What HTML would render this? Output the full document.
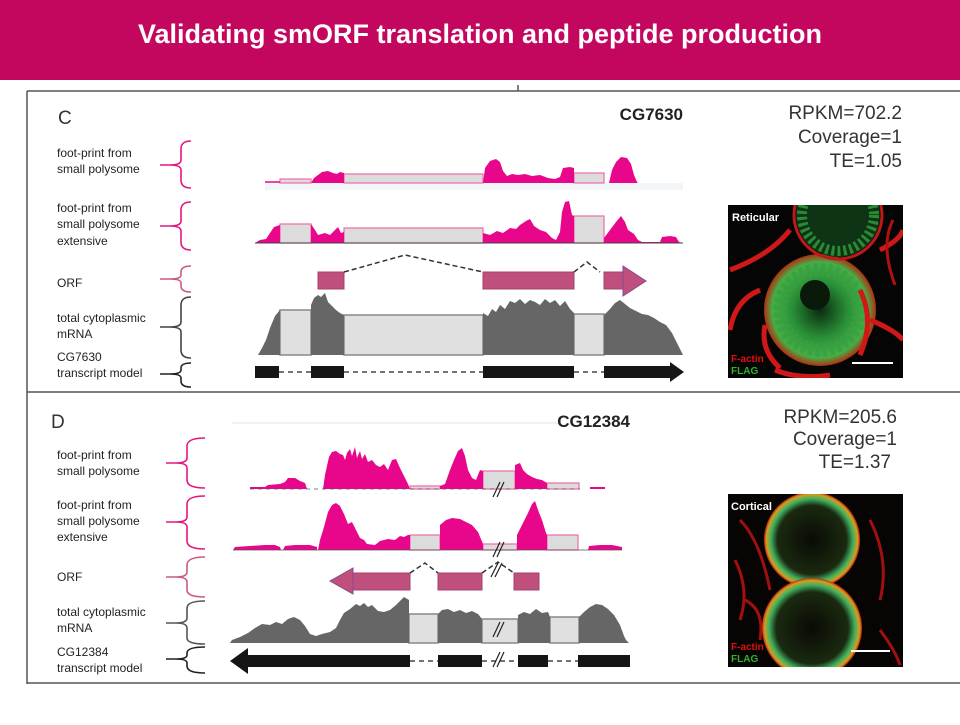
<!DOCTYPE html>
<html><head><meta charset="utf-8"><style>
html,body{margin:0;padding:0;background:#fff;}
body{width:960px;height:720px;overflow:hidden;position:relative;font-family:"Liberation Sans",sans-serif;}
</style></head><body>
<svg width="960" height="720" viewBox="0 0 960 720" xmlns="http://www.w3.org/2000/svg" font-family="Liberation Sans, sans-serif">
<defs>
<radialGradient id="gc" cx="50%" cy="50%" r="50%"><stop offset="0" stop-color="#0a2a10"/><stop offset="0.5" stop-color="#2a9038"/><stop offset="0.85" stop-color="#45b048"/><stop offset="1" stop-color="#b03010"/></radialGradient>
<radialGradient id="gd" cx="50%" cy="50%" r="50%"><stop offset="0" stop-color="#0a0a05"/><stop offset="0.72" stop-color="#1a2a10"/><stop offset="0.86" stop-color="#3fb060"/><stop offset="0.95" stop-color="#d0a020"/><stop offset="1" stop-color="#c02010"/></radialGradient>
<clipPath id="cc"><rect x="728" y="205" width="175" height="173"/></clipPath>
<clipPath id="cd"><rect x="728" y="494" width="175" height="173"/></clipPath>
</defs>
<rect x="0" y="0" width="960" height="80" fill="#C4075E"/>
<text x="480" y="43" text-anchor="middle" fill="#fff" font-size="27" font-weight="bold">Validating smORF translation and peptide production</text>

<g stroke="#555" stroke-width="1.5" fill="none">
<line x1="27" y1="91" x2="960" y2="91"/>
<line x1="27" y1="91" x2="27" y2="684"/>
<line x1="27" y1="392" x2="960" y2="392"/>
<line x1="27" y1="683" x2="960" y2="683"/>
<line x1="518" y1="85" x2="518" y2="91"/>
</g>

<text x="58" y="124" font-size="19" fill="#333">C</text>
<text x="683" y="120" font-size="17" font-weight="bold" text-anchor="end" fill="#222">CG7630</text>
<g font-size="19" fill="#333" text-anchor="end">
<text x="902" y="119">RPKM=702.2</text>
<text x="902" y="143">Coverage=1</text>
<text x="902" y="167">TE=1.05</text>
</g>
<g font-size="12" fill="#222">
<text x="57" y="157">foot-print from</text>
<text x="57" y="173">small polysome</text>
<text x="57" y="212">foot-print from</text>
<text x="57" y="228">small polysome</text>
<text x="57" y="245">extensive</text>
<text x="57" y="287">ORF</text>
<text x="57" y="322">total cytoplasmic</text>
<text x="57" y="338">mRNA</text>
<text x="57" y="361">CG7630</text>
<text x="57" y="377">transcript model</text>
</g>
<g fill="none" stroke-width="1.6">
<path d="M191,141 Q181,141 181,149 L181,160 Q181,165 170,165 Q181,165 181,170 L181,180 Q181,188 191,188 M160,165 L170,165" stroke="#e8157f"/>
<path d="M191,202 Q181,202 181,210 L181,221 Q181,226 170,226 Q181,226 181,231 L181,242 Q181,250 191,250 M160,226 L170,226" stroke="#e8157f"/>
<path d="M191,266 Q181,266 181,272 L181,275 Q181,279 170,279 Q181,279 181,283 L181,286 Q181,292 191,292 M160,279 L170,279" stroke="#c85a88"/>
<path d="M191,297 Q181,297 181,305 L181,322 Q181,327 170,327 Q181,327 181,332 L181,350 Q181,358 191,358 M160,327 L170,327" stroke="#444"/>
<path d="M191,363 Q181,363 181,368 L181,370 Q181,374 170,374 Q181,374 181,378 L181,381 Q181,387 191,387 M160,374 L170,374" stroke="#222"/>
</g>

<rect x="265" y="183" width="418" height="7" fill="#f3f6f8"/>
<g fill="#dcdcdc" stroke="#f06aa8" stroke-width="1.2">
<rect x="280" y="179" width="31" height="4"/>
<rect x="344" y="174" width="139" height="9"/>
<rect x="574" y="173" width="30" height="10"/>
</g>
<line x1="265" y1="182" x2="280" y2="182" stroke="#e8068a" stroke-width="1.5"/>
<g fill="#e8068a">
<path d="M311,183 L314,178 L318,175 L322,172 L328,171 L333,173 L337,174 L340,172 L344,173 L344,183Z"/>
<path d="M483,183 L485,168 L490,161 L496,159 L500,162 L503,171 L507,176 L512,174 L518,175 L525,174 L532,176 L540,175 L548,178 L555,179 L560,177 L563,168 L570,167 L574,168 L574,183Z"/>
<path d="M609,183 L612,170 L616,162 L621,157 L627,158 L631,164 L634,175 L637,182 L638,183Z"/>
</g>

<g fill="#dcdcdc" stroke="#f06aa8" stroke-width="1.2">
<rect x="280" y="224" width="31" height="19"/>
<rect x="344" y="228" width="139" height="15"/>
<rect x="574" y="216" width="30" height="27"/>
</g>
<g fill="#e8068a">
<path d="M255,243 L260,240 L266,239 L270,233 L274,227 L280,225 L280,243Z"/>
<path d="M311,243 L311,224 L315,230 L318,235 L325,233 L330,235 L335,230 L338,227 L341,233 L344,232 L344,243Z"/>
<path d="M483,243 L483,233 L490,235 L497,231 L503,233 L510,228 L516,229 L520,225 L526,221 L530,219 L534,226 L540,230 L546,232 L552,238 L556,240 L560,232 L562,212 L565,202 L569,201 L572,215 L574,216 L574,243Z"/>
<path d="M604,243 L604,238 L610,230 L616,222 L621,216 L625,222 L628,230 L634,234 L638,240 L642,242 L660,242 L662,237 L670,236 L676,237 L679,242 L683,243Z"/>
</g>
<line x1="255" y1="243" x2="683" y2="243" stroke="#444" stroke-width="1"/>

<g fill="#bf4f7d" stroke="#a9406d" stroke-width="1">
<rect x="318" y="272" width="26" height="17"/>
<rect x="483" y="272" width="91" height="17"/>
<rect x="604" y="272" width="19" height="17"/>
<path d="M623,266 L646,281 L623,296Z" stroke="#8a4a90"/>
</g>
<path d="M344,272 L405,255 L483,272 M574,272 L587,262 L600,272" fill="none" stroke="#333" stroke-width="1.5" stroke-dasharray="5,3"/>

<g fill="#e0e0e0" stroke="#888" stroke-width="1.5">
<rect x="280" y="310" width="31" height="45"/>
<rect x="344" y="315" width="139" height="40"/>
<rect x="574" y="314" width="30" height="41"/>
</g>
<g fill="#666">
<path d="M258,355 L262,348 L266,340 L270,328 L275,316 L280,310 L280,355Z"/>
<path d="M311,355 L311,305 L314,298 L318,295 L321,297 L325,293 L328,302 L332,306 L336,310 L340,313 L344,315 L344,355Z"/>
<path d="M483,355 L483,313 L488,316 L492,309 L496,312 L500,305 L505,309 L510,301 L515,303 L520,299 L525,304 L530,300 L535,302 L540,305 L545,299 L550,303 L555,300 L560,306 L565,301 L570,309 L574,313 L574,355Z"/>
<path d="M604,355 L604,315 L610,309 L615,303 L620,300 L625,304 L630,308 L636,311 L642,314 L648,315 L654,318 L660,322 L666,325 L672,333 L678,345 L683,355Z"/>
</g>

<g fill="#151515">
<rect x="255" y="366" width="24" height="12"/>
<rect x="311" y="366" width="33" height="12"/>
<rect x="483" y="366" width="91" height="12"/>
<rect x="604" y="366" width="68" height="12"/>
<path d="M670,362 L684,372 L670,382Z"/>
</g>
<path d="M279,372 L311,372 M344,372 L483,372 M574,372 L604,372" stroke="#222" stroke-width="1.3" stroke-dasharray="5,4"/>

<!-- C image -->
<g clip-path="url(#cc)">
<rect x="728" y="205" width="175" height="173" fill="#050505"/>
<circle cx="820" cy="310" r="56" fill="url(#gc)"/>
<circle cx="820" cy="310" r="40" fill="none" stroke="#3aa040" stroke-width="14" stroke-dasharray="4,3" opacity="0.8"/>
<circle cx="815" cy="295" r="15" fill="#0a1a0a"/>
<circle cx="838" cy="215" r="42" fill="#0d3515"/>
<circle cx="838" cy="215" r="36" fill="none" stroke="#2a8a35" stroke-width="10" stroke-dasharray="3,3"/>
<circle cx="838" cy="215" r="44" fill="none" stroke="#c01818" stroke-width="3"/>
<path d="M730,270 Q770,255 790,230 M760,290 Q735,300 730,330 M870,320 Q895,330 903,340 M880,250 Q900,240 903,230 M775,370 Q800,380 830,375 M765,325 Q760,350 780,368 M860,290 Q875,320 860,355" stroke="#d01818" stroke-width="5" fill="none"/>
<path d="M893,220 Q880,245 895,285" stroke="#b01010" stroke-width="3" fill="none"/>
</g>
<text x="732" y="221" font-size="11" font-weight="bold" fill="#fff">Reticular</text>
<text x="731" y="362" font-size="10" font-weight="bold" fill="#e01010">F-actin</text>
<text x="731" y="374" font-size="10" font-weight="bold" fill="#30b030">FLAG</text>
<line x1="852" y1="363" x2="893" y2="363" stroke="#fff" stroke-width="2"/>

<text x="51" y="428" font-size="19" fill="#333">D</text>
<line x1="232" y1="423" x2="560" y2="423" stroke="#eef2f6" stroke-width="2"/>
<text x="630" y="427" font-size="17" font-weight="bold" text-anchor="end" fill="#222">CG12384</text>
<g font-size="19" fill="#333" text-anchor="end">
<text x="897" y="423">RPKM=205.6</text>
<text x="897" y="445">Coverage=1</text>
<text x="891" y="468">TE=1.37</text>
</g>
<g font-size="12" fill="#222">
<text x="57" y="459">foot-print from</text>
<text x="57" y="475">small polysome</text>
<text x="57" y="509">foot-print from</text>
<text x="57" y="525">small polysome</text>
<text x="57" y="541">extensive</text>
<text x="57" y="581">ORF</text>
<text x="57" y="616">total cytoplasmic</text>
<text x="57" y="632">mRNA</text>
<text x="57" y="656">CG12384</text>
<text x="57" y="672">transcript model</text>
</g>
<g fill="none" stroke-width="1.6">
<path d="M205,438 Q187,438 187,446 L187,458 Q187,463 176,463 Q187,463 187,468 L187,480 Q187,488 205,488 M166,463 L176,463" stroke="#e8157f"/>
<path d="M205,496 Q187,496 187,504 L187,517 Q187,522 176,522 Q187,522 187,527 L187,541 Q187,549 205,549 M166,522 L176,522" stroke="#e8157f"/>
<path d="M205,557 Q187,557 187,565 L187,572 Q187,577 176,577 Q187,577 187,582 L187,590 Q187,597 205,597 M166,577 L176,577" stroke="#c85a88"/>
<path d="M205,601 Q187,601 187,608 L187,618 Q187,623 176,623 Q187,623 187,628 L187,638 Q187,644 205,644 M166,623 L176,623" stroke="#555"/>
<path d="M205,647 Q187,647 187,653 L187,655 Q187,659 176,659 Q187,659 187,663 L187,666 Q187,673 205,673 M166,659 L176,659" stroke="#222"/>
</g>

<g fill="#dcdcdc" stroke="#f06aa8" stroke-width="1.2">
<rect x="410" y="486" width="30" height="3"/>
<rect x="483" y="471" width="32" height="18"/>
<rect x="547" y="483" width="32" height="6"/>
</g>
<g fill="#e8068a">
<path d="M250,489 L250,487 L265,487 L268,485 L280,484 L285,482 L288,478 L295,478 L300,481 L305,483 L307,489Z"/>
<path d="M323,489 L325,475 L329,457 L332,452 L336,451 L340,454 L343,455 L345,460 L347,453 L350,449 L352,456 L355,447 L357,458 L360,451 L362,459 L365,454 L368,462 L372,460 L376,465 L380,467 L384,464 L388,470 L392,460 L396,459 L400,468 L404,476 L408,484 L410,489Z"/>
<path d="M440,489 L440,486 L445,484 L450,470 L454,460 L458,451 L462,448 L465,456 L468,470 L472,478 L476,480 L480,470 L483,471 L483,489Z"/>
<path d="M515,489 L515,465 L520,463 L523,470 L527,474 L532,477 L537,479 L542,480 L547,483 L547,489Z"/>
<rect x="590" y="487" width="15" height="2"/>
</g>
<line x1="250" y1="489" x2="580" y2="489" stroke="#555" stroke-width="0.8" stroke-dasharray="4,4"/>

<g fill="#dcdcdc" stroke="#f06aa8" stroke-width="1.2">
<rect x="410" y="535" width="30" height="15"/>
<rect x="483" y="544" width="34" height="6"/>
<rect x="547" y="535" width="31" height="15"/>
</g>
<g fill="#e8068a">
<path d="M233,550 L235,547 L250,546 L265,545 L275,545 L280,547 L281,550Z"/>
<path d="M283,550 L285,546 L295,545 L310,545 L317,547 L317,550Z"/>
<path d="M318,550 L320,540 L324,527 L328,512 L332,505 L336,503 L340,506 L344,514 L348,524 L352,522 L356,530 L360,538 L364,540 L367,544 L375,545 L380,541 L388,539 L395,540 L400,536 L404,537 L408,535 L410,535 L410,550Z"/>
<path d="M440,550 L440,525 L446,520 L452,518 L460,519 L466,522 L472,525 L478,532 L483,544 L483,550Z"/>
<path d="M517,550 L517,535 L522,525 L528,513 L532,504 L535,501 L538,510 L542,520 L546,533 L547,535 L547,550Z"/>
<path d="M588,550 L589,546 L600,545 L612,545 L622,547 L622,550Z"/>
</g>
<line x1="233" y1="550" x2="622" y2="550" stroke="#555" stroke-width="0.8"/>

<g fill="#bf4f7d" stroke="#a9406d" stroke-width="1">
<rect x="353" y="573" width="57" height="17"/>
<path d="M353,568 L330,581 L353,594Z" stroke="#8a4a90"/>
<rect x="438" y="573" width="44" height="17"/>
<rect x="514" y="573" width="25" height="17"/>
</g>
<path d="M410,573 L425,563 L438,573 M482,573 L498,562 L514,573" fill="none" stroke="#333" stroke-width="1.5" stroke-dasharray="5,3"/>

<g fill="#e0e0e0" stroke="#888" stroke-width="1.5">
<rect x="409" y="614" width="29" height="29"/>
<rect x="482" y="619" width="36" height="24"/>
<rect x="550" y="617" width="29" height="26"/>
</g>
<g fill="#666">
<path d="M230,643 L232,640 L240,637 L248,633 L255,628 L262,624 L270,625 L276,622 L282,624 L288,619 L294,617 L300,620 L305,626 L310,634 L316,636 L322,634 L330,632 L336,628 L340,620 L344,613 L350,609 L356,604 L360,606 L364,603 L368,607 L372,605 L378,611 L384,612 L390,610 L396,605 L400,601 L404,597 L409,600 L409,643Z"/>
<path d="M438,643 L438,614 L442,610 L448,609 L454,612 L460,610 L466,613 L472,611 L478,614 L482,619 L482,643Z"/>
<path d="M518,643 L518,615 L524,612 L530,614 L536,609 L542,613 L548,612 L550,617 L550,643Z"/>
<path d="M579,643 L579,617 L584,612 L590,607 L596,604 L602,605 L608,609 L614,615 L620,625 L624,636 L626,640 L629,643Z"/>
</g>

<g fill="#151515">
<rect x="247" y="655" width="163" height="12"/>
<path d="M248,648 L230,661 L248,674Z"/>
<rect x="438" y="655" width="44" height="12"/>
<rect x="518" y="655" width="30" height="12"/>
<rect x="578" y="655" width="52" height="12"/>
</g>
<path d="M410,661 L438,661 M482,661 L518,661 M548,661 L578,661" stroke="#222" stroke-width="1.3" stroke-dasharray="5,4"/>

<g stroke="#222" stroke-width="1.2">
<path d="M493,637 L500,622 M497,637 L504,622"/>
<path d="M493,497 L500,482 M497,497 L504,482"/>
<path d="M493,557 L500,542 M497,557 L504,542"/>
<path d="M491,577 L498,563 M495,577 L502,563"/>
<path d="M493,667 L500,652 M497,667 L504,652"/>
</g>

<!-- D image -->
<g clip-path="url(#cd)">
<rect x="728" y="494" width="175" height="173" fill="#070503"/>
<path d="M735,560 Q750,590 740,620 M745,600 Q765,610 760,640 M870,520 Q890,560 880,600 M880,630 Q895,650 900,665 M740,520 Q760,540 770,590" stroke="#a01010" stroke-width="3" fill="none"/>
<circle cx="812" cy="540" r="48" fill="url(#gd)"/>
<circle cx="812" cy="628" r="50" fill="url(#gd)"/>
</g>
<text x="731" y="510" font-size="11" font-weight="bold" fill="#fff">Cortical</text>
<text x="731" y="650" font-size="10" font-weight="bold" fill="#e01010">F-actin</text>
<text x="731" y="662" font-size="10" font-weight="bold" fill="#30b030">FLAG</text>
<line x1="851" y1="651" x2="890" y2="651" stroke="#fff" stroke-width="2"/>
</svg>
</body></html>
